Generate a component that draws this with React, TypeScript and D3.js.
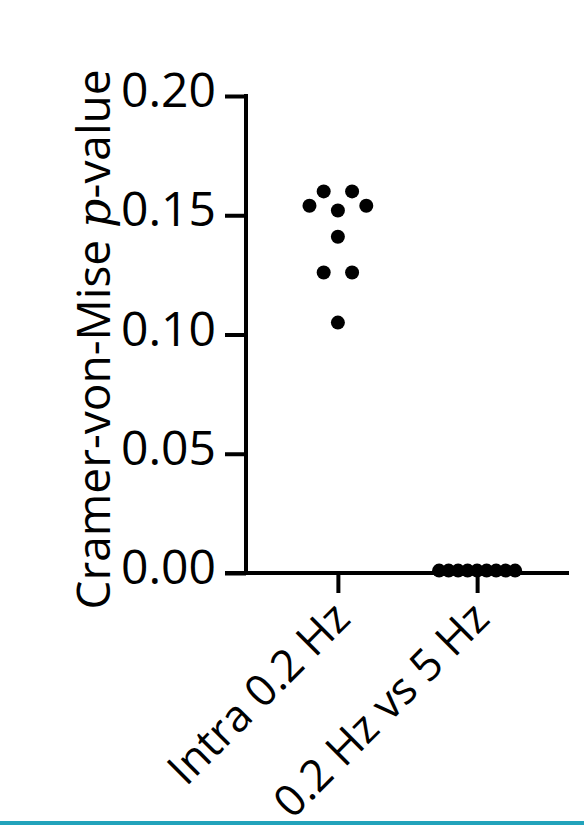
import { useEffect, useRef } from 'react';
import * as d3 from 'd3';

const categories = ['Intra 0.2 Hz', '0.2 Hz vs 5 Hz'];
const intraValues = [0.160, 0.160, 0.154, 0.152, 0.154, 0.141, 0.126, 0.126, 0.105];
const crossValues = [0.001, 0.001, 0.001, 0.001, 0.001, 0.001, 0.001, 0.001, 0.001];
const yTicks = [0, 0.05, 0.1, 0.15, 0.2];

const WIDTH = 584;
const HEIGHT = 833;
const FONT = '"Open Sans", "Noto Sans", sans-serif';

export default function App() {
  const ref = useRef<SVGSVGElement | null>(null);

  useEffect(() => {
    if (!ref.current) return;
    const svg = d3.select(ref.current);
    svg.selectAll('*').remove();

    const plot = { left: 246, right: 569, top: 96, bottom: 573 };
    const tickLen = 21;

    const y = d3.scaleLinear().domain([0, 0.2]).range([plot.bottom, plot.top]);
    const x = d3
      .scalePoint<string>()
      .domain(categories)
      .range([plot.left, plot.right])
      .padding(0.66);

    // Y axis
    const yAxis = svg
      .append('g')
      .attr('transform', `translate(${plot.left},0)`)
      .call(d3.axisLeft(y).tickValues(yTicks).tickSize(tickLen).tickSizeOuter(0).tickFormat(d3.format('.2f')));
    yAxis.select('.domain').attr('stroke', '#000').attr('stroke-width', 4).attr('d', `M0,${plot.top - 2}V${plot.bottom}`);
    yAxis.selectAll('.tick line').attr('stroke', '#000').attr('stroke-width', 4);
    yAxis
      .selectAll('.tick text')
      .attr('x', -30)
      .attr('dy', '0.22em')
      .style('font-family', FONT)
      .style('font-size', '48px')
      .attr('fill', '#000');

    // X axis
    const xAxis = svg
      .append('g')
      .attr('transform', `translate(0,${plot.bottom})`)
      .call(d3.axisBottom(x).tickSize(20).tickSizeOuter(0));
    xAxis.select('.domain').attr('stroke', '#000').attr('stroke-width', 4).attr('d', `M${plot.left - tickLen},0H${plot.right}`);
    xAxis.selectAll('.tick line').attr('stroke', '#000').attr('stroke-width', 4);
    xAxis
      .selectAll('.tick text')
      .attr('y', 0)
      .attr('dy', 0)
      .attr('transform', 'translate(14,48) rotate(-45)')
      .attr('text-anchor', 'end')
      .style('font-family', FONT)
      .style('font-size', '44px')
      .attr('fill', '#000');

    // Y axis title
    const title = svg
      .append('text')
      .attr('transform', `translate(110,${(plot.top + plot.bottom) / 2 + 5}) rotate(-90)`)
      .attr('text-anchor', 'middle')
      .style('font-family', FONT)
      .style('font-size', '46px')
      .attr('fill', '#000');
    title.append('tspan').text('Cramer-von-Mise ');
    title
      .append('tspan')
      .style('font-family', '"DejaVu Serif", serif')
      .style('font-style', 'italic')
      .style('font-weight', 300)
      .text('p');
    title.append('tspan').text('-value');

    // Scatter points, spread sideways like a column scatter
    const r = 7;
    const maxSpread = 76;
    const baseStep = 28.4;
    const groups = [intraValues, crossValues];
    groups.forEach((vals, gi) => {
      const cx = x(categories[gi]) as number;
      const rows: number[][] = [];
      vals.forEach((v) => {
        const last = rows[rows.length - 1];
        if (last && Math.abs(y(last[0]) - y(v)) < 6) last.push(v);
        else rows.push([v]);
      });
      rows.forEach((row) => {
        const n = row.length;
        const step = n > 1 ? Math.min(baseStep, maxSpread / (n - 1)) : 0;
        row.forEach((v, i) => {
          svg
            .append('circle')
            .attr('cx', cx + (i - (n - 1) / 2) * step)
            .attr('cy', y(v))
            .attr('r', r)
            .attr('fill', '#000');
        });
      });
    });

    // Teal rule at the bottom of the figure
    svg
      .append('line')
      .attr('x1', 0)
      .attr('x2', WIDTH)
      .attr('y1', 823)
      .attr('y2', 823)
      .attr('stroke', '#22a3bb')
      .attr('stroke-width', 4);
  }, []);

  return (
    <svg
      ref={ref}
      width={WIDTH}
      height={HEIGHT}
      style={{ position: 'absolute', left: 0, top: 0, background: '#fff' }}
    />
  );
}
